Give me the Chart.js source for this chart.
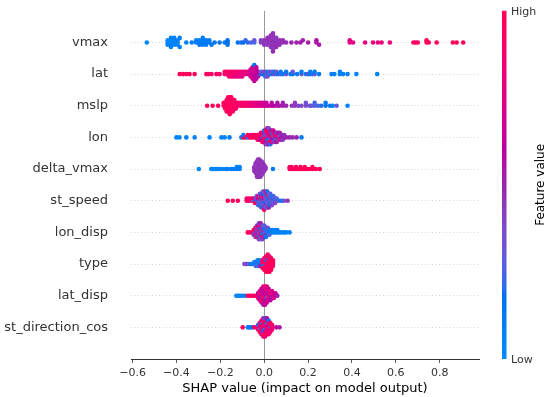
<!DOCTYPE html>
<html>
<head>
<meta charset="utf-8">
<script src="https://cdn.jsdelivr.net/npm/chart.js@4.4.0/dist/chart.umd.min.js"></script>
<style>
  html, body { margin: 0; padding: 0; background: #fff; }
  #wrap { width: 550px; height: 397px; position: relative; }
</style>
</head>
<body>
<div id="wrap"><canvas id="c" width="550" height="397"></canvas></div>
<script>
// Features, top to bottom
const features = ["vmax", "lat", "mslp", "lon", "delta_vmax", "st_speed", "lon_disp", "type", "lat_disp", "st_direction_cos"];
const xTicks = [-0.6, -0.4, -0.2, 0.0, 0.2, 0.4, 0.6, 0.8];
const xLabel = "SHAP value (impact on model output)";
const colorbarLabels = { high: "High", low: "Low", title: "Feature value" };

// Each entry: [SHAP value, [normalized feature value of every sample at that SHAP value]]
const vmax = [
 [-0.535,[.02]],
 [-0.44,[.05,.04,.06]],[-0.425,[.05,.04,.07,.05,.06]],[-0.41,[.06,.04,.05,.07]],[-0.395,[.07,.06,.05]],[-0.385,[.08,.06]],
 [-0.355,[.08]],[-0.33,[.09]],
 [-0.31,[.1,.08]],[-0.295,[.1,.09,.11]],[-0.28,[.12,.1,.11,.09]],[-0.265,[.09,.12,.1]],[-0.25,[.13,.1]],[-0.24,[.12]],
 [-0.226,[.13]],[-0.203,[.14]],[-0.18,[.15]],[-0.167,[.15,.16,.17]],
 [-0.12,[.17]],[-0.105,[.2]],[-0.095,[.18]],[-0.085,[.22]],[-0.075,[.2]],[-0.06,[.25]],[-0.045,[.22,.3]],
 [-0.015,[.42,.4]],[0.0,[.44,.45,.43]],[0.015,[.46,.44,.45,.47]],[0.03,[.45,.46,.43,.47,.44,.46]],[0.04,[.45,.48,.46,.44,.47,.45,.43,.46,.48]],[0.055,[.47,.45,.46,.44,.48]],[0.07,[.47,.45,.46]],[0.085,[.46,.48]],[0.10,[.47]],
 [0.124,[.5]],[0.147,[.5]],[0.165,[.52]],[0.176,[.52]],[0.2,[.53]],[0.238,[.55,.56]],[0.25,[.55]],
 [0.39,[.75,.76]],[0.405,[.77]],[0.46,[.78]],[0.496,[.8]],[0.518,[.8]],[0.535,[.82]],[0.573,[.82]],
 [0.68,[.92]],[0.69,[.93]],[0.70,[.93]],[0.74,[.95,.96]],[0.75,[.96]],[0.786,[.96]],[0.86,[.98]],[0.877,[.98]],[0.907,[1]]];
const lat = [
 [-0.385,[.97]],[-0.37,[.96]],[-0.355,[.97]],[-0.34,[.95]],[-0.317,[.95]],[-0.264,[.93]],[-0.255,[.94]],[-0.24,[.92]],[-0.218,[.92]],[-0.203,[.9]],
 [-0.18,[.9,.88]],[-0.17,[.88,.9]],[-0.16,[.87,.9,.85]],[-0.15,[.86,.89,.84]],[-0.14,[.85,.88,.83]],[-0.13,[.84,.87,.8]],[-0.12,[.83,.86,.8]],[-0.11,[.82,.85,.78]],[-0.10,[.8,.83,.76]],[-0.09,[.78,.8]],[-0.08,[.76,.79]],[-0.07,[.72,.75]],
 [-0.062,[.7,.68,.72,.66]],[-0.053,[.68,.7,.65,.72,.66,.69]],[-0.045,[.66,.68,.62,.7,.64,.67,.63,.15]],[-0.036,[.62,.65,.6,.66,.63,.61]],[-0.028,[.58,.6,.55]],
 [-0.015,[.2,.3]],[-0.005,[.18,.35]],[0.005,[.15,.4,.22]],[0.015,[.3,.12,.38]],[0.025,[.2,.35]],[0.035,[.15,.3]],[0.045,[.4,.12]],[0.055,[.2,.35]],[0.065,[.15]],[0.075,[.3,.12]],[0.085,[.1]],[0.1,[.35,.15]],[0.12,[.1]],[0.13,[.15,.3]],[0.15,[.12]],[0.17,[.3,.1]],[0.19,[.1]],[0.2,[.35]],[0.21,[.12,.1]],[0.22,[.1]],[0.23,[.32,.1]],[0.25,[.12]],
 [0.307,[.08]],[0.32,[.07]],[0.345,[.08,.06]],[0.36,[.06]],[0.38,[.07]],[0.42,[.06]],[0.515,[.05]]];
const mslp = [
 [-0.26,[.97]],[-0.235,[.96]],[-0.21,[.96]],
 [-0.185,[.94,.95]],[-0.178,[.95,.93,.96]],[-0.171,[.94,.96,.93,.95,.92]],[-0.164,[.93,.95,.94,.96,.92,.95]],[-0.157,[.95,.93,.94,.92,.96,.94,.93]],[-0.15,[.94,.92,.95,.93,.94,.96]],[-0.143,[.93,.91,.94,.92,.95]],[-0.136,[.92,.93,.9,.94]],[-0.129,[.9,.92,.91]],[-0.122,[.9,.91]],
 [-0.11,[.9,.88]],[-0.10,[.88,.9]],[-0.09,[.89,.86]],[-0.08,[.87,.85]],[-0.07,[.86,.84]],[-0.06,[.85,.82]],[-0.05,[.84,.8]],[-0.04,[.8,.78]],
 [-0.03,[.76,.74]],[-0.02,[.74,.72]],[-0.01,[.72,.7]],[0.0,[.7,.68]],[0.01,[.68,.66]],[0.02,[.66]],
 [0.034,[.6,.58]],[0.045,[.58]],[0.06,[.56,.55]],[0.07,[.55]],[0.085,[.52,.5]],[0.1,[.5]],
 [0.126,[.45]],[0.14,[.42,.44]],[0.155,[.4]],[0.17,[.38]],[0.19,[.36,.34]],[0.208,[.35]],
 [0.216,[.3]],[0.23,[.28,.25]],[0.245,[.25]],[0.26,[.2]],[0.28,[.15,.12]],[0.3,[.12]],[0.312,[.1]],[0.33,[.3]],[0.38,[.05]]];
const lon = [
 [-0.40,[.05]],[-0.386,[.04]],[-0.355,[.06]],[-0.317,[.05]],[-0.249,[.06]],[-0.195,[.08]],[-0.18,[.07]],[-0.158,[.1]],
 [-0.104,[.1]],[-0.095,[.95,.12]],[-0.085,[.9]],[-0.075,[.1,.92]],
 [-0.066,[.95]],[-0.06,[.93,.9]],[-0.05,[.95,.92]],[-0.04,[.9,.94]],[-0.03,[.88,.92,.9]],[-0.022,[.9,.95,.85]],
 [-0.015,[.85,.9,.6,.95]],[-0.008,[.2,.9,.5,.85,.95]],[0.0,[.85,.3,.92,.55,.9,.15]],[0.007,[.88,.45,.95,.25,.6,.9,.5]],[0.014,[.9,.4,.1,.85,.55,.95,.3,.7]],[0.021,[.5,.9,.2,.85,.45,.95,.6,.35]],[0.028,[.9,.55,.3,.85,.95,.5,.2]],[0.035,[.45,.9,.6,.1,.85,.5]],[0.042,[.9,.3,.55,.95,.45,.7]],[0.05,[.5,.85,.2,.6,.45]],[0.057,[.6,.9,.45,.35,.55]],[0.064,[.5,.85,.4,.6]],[0.071,[.55,.3,.9,.5]],[0.078,[.6,.45,.5]],[0.085,[.5,.55,.4]],[0.092,[.55,.45]],
 [0.10,[.5]],[0.115,[.5]],[0.13,[.48]],[0.148,[.5]],[0.17,[.1]]];
const delta_vmax = [
 [-0.298,[.02]],[-0.241,[.05]],[-0.235,[.04]],[-0.225,[.06]],[-0.215,[.05]],[-0.205,[.07]],[-0.19,[.06]],[-0.175,[.08]],[-0.165,[.07]],[-0.15,[.09]],[-0.14,[.08]],[-0.125,[.1,.08]],[-0.112,[.1,.09]],
 [-0.045,[.45,.47,.44]],[-0.039,[.46,.45,.47,.44,.46,.45]],[-0.033,[.47,.44,.46,.45,.47,.44,.46,.45,.47]],[-0.028,[.45,.46,.44,.47,.45,.46,.44,.47,.45,.46]],[-0.022,[.46,.45,.47,.44,.46,.45,.47,.44,.46,.45]],[-0.017,[.44,.46,.45,.47,.44,.46,.45,.47,.46]],[-0.011,[.45,.47,.44,.46,.45,.47,.44,.46]],[-0.006,[.46,.45,.47,.44,.46,.45]],[0.0,[.45,.46,.44,.47]],[0.006,[.46,.45]],
 [0.04,[.1]],
 [0.116,[.95,.96]],[0.125,[.96,.95]],[0.135,[.95]],[0.145,[.97,.95]],[0.155,[.95]],[0.165,[.96,.97]],[0.175,[.97]],[0.185,[.95,.96]],[0.195,[.96]],[0.205,[.97]],[0.22,[.96,.97]],[0.235,[.97]],[0.253,[.98]]];
const st_speed = [
 [-0.166,[.95]],[-0.143,[.96]],[-0.12,[.94]],[-0.08,[.93,.92]],[-0.07,[.95,.9]],[-0.058,[.93,.9]],
 [-0.05,[.3,.85]],[-0.042,[.2,.5,.9]],[-0.034,[.1,.35,.9,.3]],[-0.027,[.15,.6,.3,.85,.25]],[-0.02,[.3,.95,.25,.4,.15,.35]],[-0.013,[.45,.15,.35,.9,.3,.2,.4]],[-0.006,[.35,.9,.2,.4,.3,.55,.15,.3]],[0.0,[.3,.55,.25,.85,.35,.15,.4,.3,.9]],[0.007,[.4,.3,.15,.35,.5,.25,.3,.85]],[0.014,[.25,.35,.4,.2,.3,.9,.35,.15]],[0.021,[.35,.15,.3,.4,.25,.3,.5]],[0.028,[.3,.4,.2,.35,.15,.3]],[0.035,[.2,.35,.3,.1,.4]],[0.042,[.35,.15,.3,.25]],[0.05,[.15,.3,.4]],[0.057,[.4,.25]],
 [0.07,[.2]],[0.08,[.1]],[0.09,[.35]],[0.107,[.45]]];
const lon_disp = [
 [-0.075,[.95]],[-0.065,[.9]],[-0.053,[.92]],
 [-0.048,[.6,.9,.45]],[-0.04,[.3,.85,.5,.95,.4]],[-0.032,[.45,.2,.8,.35,.9,.5]],[-0.024,[.4,.9,.3,.55,.15,.85,.45,.35]],[-0.016,[.5,.35,.9,.2,.45,.8,.3,.55]],[-0.008,[.3,.45,.15,.5,.9,.35,.4]],[0.0,[.2,.45,.35,.1,.5,.3]],[0.008,[.35,.1,.45,.2,.15]],[0.016,[.1,.25,.12,.4]],[0.024,[.12,.1,.3]],
 [0.03,[.08,.1]],[0.04,[.06,.08]],[0.05,[.07,.05]],[0.06,[.06,.08]],[0.07,[.05]],[0.08,[.05]],[0.09,[.05]],[0.1,[.06]],[0.116,[.04]]];
const type = [
 [-0.09,[.4]],[-0.085,[.38]],[-0.08,[.35]],[-0.075,[.35]],[-0.07,[.3]],[-0.06,[.15]],[-0.055,[.1]],[-0.05,[.1]],
 [-0.045,[.1,.05]],[-0.038,[.05,.1,.3]],[-0.03,[.1,.35,.05,.1]],[-0.022,[.05,.1,.4,.05]],[-0.015,[.1,.05,.6]],
 [-0.008,[.95,.9,.1,.92,.96]],[0.0,[.9,.95,.05,.92,.96,.9,.94]],[0.008,[.95,.9,.93,.1,.96,.92,.95,.9,.97]],[0.016,[.92,.95,.96,.9,.94,.08,.95,.93,.97,.9]],[0.024,[.95,.92,.9,.96,.93,.95,.97,.91,.94]],[0.032,[.94,.96,.92,.95,.9,.93,.96]],[0.04,[.93,.95,.92,.96]]];
const lat_disp = [
 [-0.127,[.05]],[-0.12,[.04]],[-0.11,[.06]],[-0.1,[.05]],[-0.089,[.07]],
 [-0.075,[.95]],[-0.065,[.93]],[-0.055,[.94]],[-0.045,[.92]],[-0.034,[.9]],
 [-0.028,[.75,.6,.85]],[-0.02,[.7,.9,.55,.75,.65]],[-0.012,[.6,.8,.5,.72,.9,.65,.7]],[-0.004,[.75,.65,.9,.55,.72,.6,.95,.7,.5]],[0.004,[.72,.6,.92,.68,.5,.78,.55,.9,.65]],[0.012,[.5,.8,.3,.72,.6,.9,.68,.75]],[0.02,[.7,.6,.88,.55,.75,.65]],[0.028,[.55,.75,.65,.9,.6]],[0.036,[.65,.8,.55,.7]],[0.044,[.6,.75,.7]],[0.052,[.75,.65]],
 [0.06,[.5]]];
const st_direction_cos = [
 [-0.098,[.95]],[-0.075,[.08]],[-0.07,[.06]],[-0.065,[.1]],[-0.055,[.15]],[-0.045,[.92]],[-0.034,[.9]],
 [-0.028,[.85,.2,.9]],[-0.02,[.7,.95,.3,.85,.9]],[-0.012,[.85,.6,.9,.15,.95,.8,.9]],[-0.004,[.8,.95,.65,.9,.1,.85,.9,.7,.95]],[0.004,[.9,.85,.1,.95,.7,.85,.9,.2,.8]],[0.012,[.95,.7,.85,.2,.9,.8,.95,.6]],[0.02,[.9,.6,.85,.95,.8,.15,.9]],[0.028,[.1,.95,.75,.9,.85]],[0.036,[.75,.9,.85]],
 [0.055,[.6]],[0.07,[.55]]];

const rows = { vmax, lat, mslp, lon, delta_vmax, st_speed, lon_disp, type, lat_disp, st_direction_cos };

// SHAP red_blue colormap (LCH interpolation)
function lch2rgb(L, C, H) {
  const a = C * Math.cos(H), b = C * Math.sin(H);
  const fy = (L + 16) / 116, fx = fy + a / 500, fz = fy - b / 200;
  const finv = t => t > 6 / 29 ? t * t * t : 3 * (6 / 29) * (6 / 29) * (t - 4 / 29);
  const X = 0.95047 * finv(fx), Y = finv(fy), Z = 1.08883 * finv(fz);
  const r = 3.2404542 * X - 1.5371385 * Y - 0.4985314 * Z;
  const g = -0.9692660 * X + 1.8760108 * Y + 0.0415560 * Z;
  const bb = 0.0556434 * X - 0.2040259 * Y + 1.0572252 * Z;
  const gam = c => { c = c <= 0.0031308 ? 12.92 * c : 1.055 * Math.pow(Math.max(c, 0), 1 / 2.4) - 0.055; return Math.round(255 * Math.min(1, Math.max(0, c))); };
  return [gam(r), gam(g), gam(bb)];
}
function redBlue(t) {
  t = Math.min(1, Math.max(0, t));
  const l = t < 0.5 ? 54 + (40 - 54) * (t / 0.5) : 40 + (54 - 40) * ((t - 0.5) / 0.5);
  const c = 70 + 20 * t;
  const h = 4.6588 + t * (0.35470565 + 2 * Math.PI - 4.6588);
  const [r, g, b] = lch2rgb(l, c, h);
  return `rgb(${r},${g},${b})`;
}

// beeswarm layout (SHAP style binning)
function swarm(vals) {
  const N = vals.length, mn = Math.min(...vals), mx = Math.max(...vals), nbins = 100;
  const quant = vals.map(v => Math.round(nbins * (v - mn) / (mx - mn + 1e-8)));
  const inds = [...Array(N).keys()].sort((a, b) => quant[a] - quant[b] || a - b);
  let layer = 0, last = -1;
  const ys = new Array(N).fill(0);
  for (const i of inds) {
    if (quant[i] !== last) layer = 0;
    ys[i] = Math.ceil(layer / 2) * ((layer % 2) * 2 - 1);
    layer++; last = quant[i];
  }
  const m = Math.max(...ys) + 1;
  return ys.map(y => y * 0.9 * (0.4 / m));
}

const nF = features.length;
const datasets = features.map((name, k) => {
  const pos = nF - 1 - k;
  const pts = [];
  rows[name].forEach(([s, fs]) => fs.forEach(f => pts.push([s, f])));
  const offs = swarm(pts.map(p => p[0]));
  return {
    label: name,
    data: pts.map((p, i) => ({ x: p[0], y: pos + offs[i] })),
    backgroundColor: pts.map(p => redBlue(p[1])),
    pointRadius: 2.3,
    pointBorderWidth: 0,
    borderWidth: 0,
    pointHoverRadius: 2.3
  };
});

const colorbarPlugin = {
  id: 'colorbar',
  afterDraw(chart) {
    const { ctx, chartArea } = chart;
    const x = 502, w = 4.5, top = chartArea.top, bottom = chartArea.bottom;
    const grad = ctx.createLinearGradient(0, bottom, 0, top);
    for (let i = 0; i <= 50; i++) grad.addColorStop(i / 50, redBlue(i / 50));
    ctx.save();
    ctx.fillStyle = grad;
    ctx.fillRect(x, top, w, bottom - top);
    ctx.fillStyle = '#333';
    ctx.font = '11px "DejaVu Sans"';
    ctx.textAlign = 'left';
    ctx.textBaseline = 'middle';
    ctx.fillText(colorbarLabels.high, 511, top + 1);
    ctx.fillText(colorbarLabels.low, 511, bottom + 1);
    ctx.translate(541, (top + bottom) / 2);
    ctx.rotate(-Math.PI / 2);
    ctx.textAlign = 'center';
    ctx.fillStyle = '#000';
    ctx.font = '12px "DejaVu Sans"';
    ctx.fillText(colorbarLabels.title, 0, 0);
    ctx.restore();
  }
};

new Chart(document.getElementById('c'), {
  type: 'scatter',
  data: { datasets },
  plugins: [colorbarPlugin],
  options: {
    responsive: false,
    animation: false,
    layout: { padding: { top: 9, right: 71, left: 0, bottom: 0 } },
    plugins: { legend: { display: false }, tooltip: { enabled: false } },
    scales: {
      x: {
        type: 'linear', min: -0.607, max: 0.979,
        afterBuildTicks: s => { s.ticks = xTicks.map(v => ({ value: v })); },
        afterFit: s => { s.height = 38; },
        ticks: {
          font: { family: 'DejaVu Sans', size: 11 }, color: '#333', padding: 3.5, maxRotation: 0,
          callback: v => (v < 0 ? '\u2212' : '') + Math.abs(v).toFixed(1)
        },
        grid: {
          color: c => (c.tick && Math.abs(c.tick.value) < 1e-9) ? '#999999' : 'rgba(0,0,0,0)',
          lineWidth: 1, tickColor: '#333', tickLength: 4, tickWidth: 0.8
        },
        border: { display: true, color: '#333', width: 1 },
        title: { display: true, text: xLabel, font: { family: 'DejaVu Sans', size: 13 }, color: '#000', padding: { top: 0, bottom: 1 } }
      },
      y: {
        type: 'linear', min: -1, max: nF,
        afterBuildTicks: s => { s.ticks = features.map((f, k) => ({ value: nF - 1 - k })); },
        afterFit: s => { s.width = 131; },
        ticks: {
          font: { family: 'DejaVu Sans', size: 13 }, color: '#333', padding: 3,
          callback: v => features[nF - 1 - v]
        },
        grid: { color: '#d6d6d6', lineWidth: 1, tickLength: 20, tickColor: 'rgba(0,0,0,0)' },
        border: { display: false, dash: [1, 2.5] }
      }
    }
  }
});
</script>
</body>
</html>
